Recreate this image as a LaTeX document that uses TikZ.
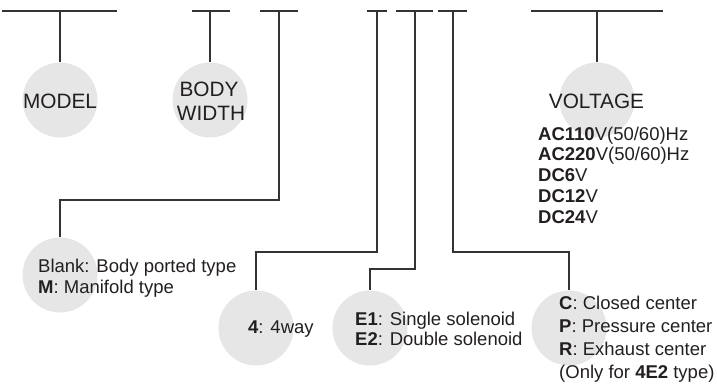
\documentclass[tikz,border=0pt]{standalone}
\usepackage{fontspec}
\setmainfont{Liberation Sans}
\definecolor{circfill}{HTML}{E6E6E6}
\definecolor{linecol}{HTML}{333333}
\definecolor{txtcol}{HTML}{231F20}
\begin{document}
\begin{tikzpicture}[x=1pt,y=-1pt,
  bub/.style={circle,fill=circfill,minimum size=75pt,inner sep=0pt},
  conn/.style={draw=linecol,line width=1.2pt},
  title/.style={anchor=base,inner sep=0pt,text=txtcol,font=\fontsize{20.8}{24}\selectfont},
  item/.style={anchor=base west,inner sep=0pt,text=txtcol,font=\fontsize{18.5}{21}\selectfont}]
\useasboundingbox (0,0) rectangle (717,385);
% bubbles
\node[bub] (c1) at (60,100) {};
\node[bub] (c2) at (210,100) {};
\node[bub] (c3) at (60,275) {};
\node[bub] (c4) at (256,328) {};
\node[bub] (c5) at (370,328) {};
\node[bub] (c6) at (569,328) {};
\node[bub] (c7) at (597,100) {};
% top bars
\coordinate (a1) at (2,11);   \coordinate (b1) at (117,11); \coordinate (s1) at (60,11);
\coordinate (a2) at (192,11); \coordinate (b2) at (230,11); \coordinate (s2) at (210,11);
\coordinate (a3) at (260,11); \coordinate (b3) at (298,11); \coordinate (s3) at (279,11);
\coordinate (a4) at (367,11); \coordinate (b4) at (387,11); \coordinate (s4) at (377,11);
\coordinate (a5) at (396,11); \coordinate (b5) at (433,11); \coordinate (s5) at (415,11);
\coordinate (a6) at (438,11); \coordinate (b6) at (467,11); \coordinate (s6) at (453,11);
\coordinate (a7) at (531,11); \coordinate (b7) at (663,11); \coordinate (s7) at (597,11);
\foreach \i in {1,...,7} {\draw[conn] (a\i) -- (b\i);}
% connectors
\draw[conn] (s1) -- (c1.north);
\draw[conn] (s2) -- (c2.north);
\draw[conn] (s7) -- (c7.north);
\coordinate (k3) at (279,200);
\coordinate (k4) at (377,252);
\coordinate (k5) at (415,269);
\coordinate (k6) at (453,252);
\draw[conn] (s3) -- (k3) -| (c3.north);
\draw[conn] (s4) -- (k4) -| (c4.north);
\draw[conn] (s5) -- (k5) -| (c5.north);
\draw[conn] (s6) -- (k6) -| (c6.north);
% titles
\node[title] (tm) at (60,109) {MODEL};
\node[title] (tb1) at (209,97) {BODY};
\node[title] (tb2) at (211,121) {WIDTH};
\node[title] (tv) at (596.5,109) {VOLTAGE};
% voltage list
\node[item] (v1) at (538,140) {\textbf{AC110}V(50/60)Hz};
\node[item] (v2) at (538,160.7) {\textbf{AC220}V(50/60)Hz};
\node[item] (v3) at (538,181.5) {\textbf{DC6}V};
\node[item] (v4) at (538,202.2) {\textbf{DC12}V};
\node[item] (v5) at (538,223) {\textbf{DC24}V};
% other items
\node[item] (m1) at (38,272) {Blank: Body ported type};
\node[item] (m2) at (38,293) {\textbf{M}: Manifold type};
\node[item] (w1) at (248,333) {\textbf{4}: 4way};
\node[item] (e1) at (355,325) {\textbf{E1}: Single solenoid};
\node[item] (e2) at (355,345) {\textbf{E2}: Double solenoid};
\node[item] (p1) at (559,309) {\textbf{C}: Closed center};
\node[item] (p2) at (559,332) {\textbf{P}: Pressure center};
\node[item] (p3) at (559,355.5) {\textbf{R}: Exhaust center};
\node[item] (p4) at (559,378) {(Only for \textbf{4E2} type)};
\end{tikzpicture}
\end{document}
